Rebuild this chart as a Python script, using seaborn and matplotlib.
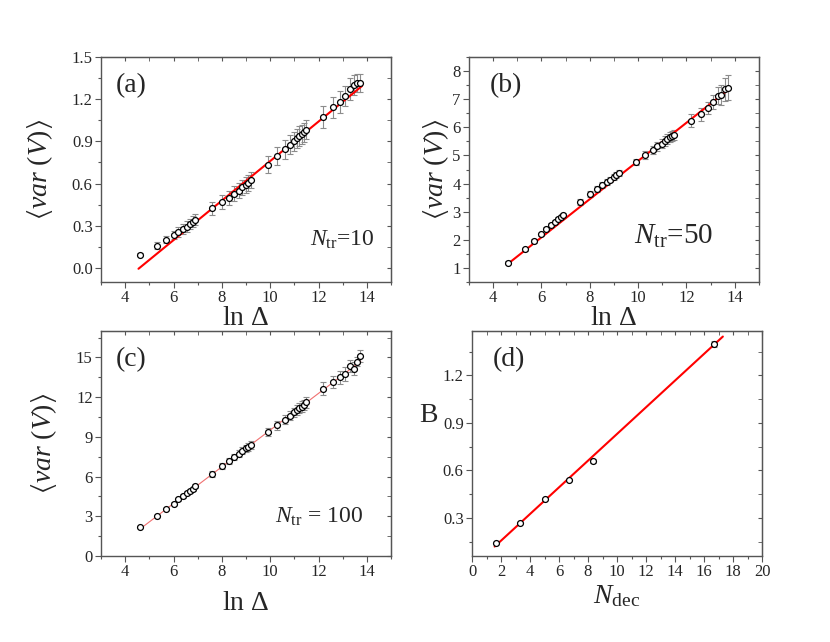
import matplotlib
matplotlib.use("Agg")
import matplotlib.pyplot as plt
from matplotlib.ticker import MultipleLocator, AutoMinorLocator
import numpy as np
import pandas as pd
import seaborn as sns

# ln(Delta) values shared by panels (a)-(c)
ln_delta = [4.6, 5.3, 5.7, 6.0, 6.2, 6.4, 6.55, 6.7, 6.8, 6.9,
            7.6, 8.0, 8.3, 8.5, 8.7, 8.85, 9.0, 9.1, 9.2,
            9.9, 10.3, 10.6, 10.8, 11.0, 11.1, 11.2, 11.3, 11.4, 11.5,
            12.2, 12.6, 12.9, 13.1, 13.3, 13.45, 13.6, 13.7]

# panel (a) N_tr = 10
var_a = [0.095, 0.157, 0.20, 0.233, 0.256, 0.28, 0.294, 0.313, 0.328, 0.342,
         0.423, 0.468, 0.50, 0.529, 0.55, 0.574, 0.589, 0.605, 0.627,
         0.733, 0.797, 0.843, 0.876, 0.902, 0.923, 0.938, 0.952, 0.966, 0.983,
         1.073, 1.144, 1.182, 1.222, 1.272, 1.30, 1.317, 1.313]
err_a = [0.012, 0.025, 0.025, 0.03, 0.033, 0.035, 0.037, 0.038, 0.04, 0.04,
         0.047, 0.05, 0.05, 0.053, 0.054, 0.055, 0.055, 0.056, 0.056,
         0.06, 0.066, 0.065, 0.067, 0.068, 0.068, 0.068, 0.068, 0.068, 0.068,
         0.077, 0.075, 0.077, 0.07, 0.08, 0.07, 0.065, 0.065]
fit_a = (0.1405, -0.645)
fit_range_a = (4.55, 13.8)

# panel (b) N_tr = 50
var_b = [1.19, 1.66, 1.96, 2.19, 2.38, 2.52, 2.63, 2.74, 2.81, 2.87,
         3.35, 3.63, 3.80, 3.94, 4.05, 4.14, 4.23, 4.31, 4.38,
         4.77, 5.02, 5.20, 5.32, 5.42, 5.51, 5.59, 5.65, 5.70, 5.73,
         6.24, 6.46, 6.69, 6.90, 7.13, 7.14, 7.35, 7.41]
err_b = [0.04, 0.05, 0.06, 0.06, 0.07, 0.07, 0.08, 0.08, 0.08, 0.08,
         0.1, 0.1, 0.1, 0.1, 0.1, 0.1, 0.1, 0.11, 0.11,
         0.12, 0.15, 0.15, 0.16, 0.16, 0.17, 0.17, 0.18, 0.18, 0.18,
         0.22, 0.22, 0.22, 0.25, 0.3, 0.35, 0.4, 0.45]
fit_b = (0.679, -1.985)
fit_range_b = (4.6, 13.7)

# panel (c) N_tr = 100
var_c = [2.17, 3.02, 3.55, 3.96, 4.29, 4.54, 4.74, 4.92, 5.09, 5.27,
         6.20, 6.78, 7.18, 7.49, 7.74, 7.94, 8.12, 8.24, 8.39,
         9.35, 9.86, 10.31, 10.59, 10.84, 11.02, 11.17, 11.29, 11.42, 11.60,
         12.63, 13.16, 13.49, 13.74, 14.34, 14.14, 14.67, 15.10]
err_c = [0.08, 0.1, 0.1, 0.12, 0.12, 0.13, 0.14, 0.15, 0.15, 0.16,
         0.2, 0.22, 0.22, 0.24, 0.25, 0.26, 0.27, 0.28, 0.28,
         0.3, 0.32, 0.34, 0.35, 0.36, 0.37, 0.38, 0.39, 0.4, 0.4,
         0.5, 0.45, 0.5, 0.5, 0.45, 0.5, 0.35, 0.48]
fit_c = (1.387, -4.36)
fit_range_c = (4.6, 13.75)

# panel (d) slope B vs N_dec
n_dec = [1.67, 3.33, 5.0, 6.67, 8.33, 16.67]
slope_B = [0.14, 0.268, 0.418, 0.54, 0.66, 1.396]
err_B = [0.005, 0.006, 0.005, 0.008, 0.012, 0.02]
fit_d = (0.0842, -0.012)
fit_range_d = (1.56, 17.3)

sns.set_style("ticks")
plt.rcParams['font.family'] = ['Liberation Serif', 'DejaVu Serif']
plt.rcParams['mathtext.fontset'] = 'custom'
plt.rcParams['mathtext.rm'] = 'Liberation Serif'
plt.rcParams['mathtext.it'] = 'Liberation Serif:italic'
plt.rcParams['mathtext.fallback'] = 'stix'

edge = '#555555'
fig = plt.figure(figsize=(8.3, 6.42), dpi=100)
ax_a = fig.add_axes([0.1217, 0.5607, 0.3494, 0.3505])
ax_b = fig.add_axes([0.5650, 0.5607, 0.3494, 0.3505])
ax_c = fig.add_axes([0.1217, 0.1340, 0.3494, 0.3505])
ax_d = fig.add_axes([0.5687, 0.1340, 0.3494, 0.3505])

ylab = r'$\langle \mathit{var}\ (V)\rangle$'


def style_axis(ax, xmaj, ymaj):
    ax.xaxis.set_major_locator(MultipleLocator(xmaj))
    ax.yaxis.set_major_locator(MultipleLocator(ymaj))
    ax.xaxis.set_minor_locator(AutoMinorLocator(2))
    ax.yaxis.set_minor_locator(AutoMinorLocator(2))
    ax.tick_params(which='major', direction='out', length=4, width=0.8,
                   color=edge, labelsize=12, pad=2)
    ax.tick_params(which='minor', direction='out', length=2.5, width=0.8, color=edge)
    for s in ax.spines.values():
        s.set_color(edge)
        s.set_linewidth(1.0)
    # inward ticks on the top and right spines
    top = ax.secondary_xaxis('top')
    top.xaxis.set_major_locator(MultipleLocator(xmaj))
    top.xaxis.set_minor_locator(AutoMinorLocator(2))
    top.tick_params(which='both', direction='in', length=3, color=edge, labeltop=False)
    top.spines['top'].set_color(edge)
    right = ax.secondary_yaxis('right')
    right.yaxis.set_major_locator(MultipleLocator(ymaj))
    right.yaxis.set_minor_locator(AutoMinorLocator(2))
    right.tick_params(which='both', direction='in', length=3, color=edge, labelright=False)
    right.spines['right'].set_color(edge)


def draw_panel(ax, x, y, err, fit, fit_range, line_color, line_width):
    df = pd.DataFrame({'x': x, 'y': y})
    ax.errorbar(x, y, yerr=err, fmt='none', ecolor='#8c8c8c', elinewidth=0.8,
                capsize=2.5, capthick=0.8, zorder=2)
    xf = np.array(fit_range)
    fit_df = pd.DataFrame({'x': xf, 'y': fit[0] * xf + fit[1]})
    sns.lineplot(data=fit_df, x='x', y='y', ax=ax, color=line_color,
                 linewidth=line_width, zorder=3)
    sns.scatterplot(data=df, x='x', y='y', ax=ax, marker='o', s=18,
                    facecolor='white', edgecolor='black', linewidth=0.9, zorder=4)


draw_panel(ax_a, ln_delta, var_a, err_a, fit_a, fit_range_a, 'red', 1.5)
ax_a.set_xlim(3, 15)
ax_a.set_ylim(-0.1, 1.5)
style_axis(ax_a, 2, 0.3)
ax_a.set_yticklabels([f'{v:.1f}' for v in ax_a.get_yticks()])
ax_a.set_xlabel(r'ln $\Delta$', fontsize=20, labelpad=0)
ax_a.set_ylabel(ylab, fontsize=20, labelpad=12)
ax_a.text(0.05, 0.93, '(a)', transform=ax_a.transAxes, fontsize=20, va='top')
ax_a.text(0.72, 0.16, r'$N_{\rm tr}$=10', transform=ax_a.transAxes, fontsize=17)

draw_panel(ax_b, ln_delta, var_b, err_b, fit_b, fit_range_b, 'red', 1.5)
ax_b.set_xlim(3, 15)
ax_b.set_ylim(0.5, 8.5)
style_axis(ax_b, 2, 1)
ax_b.set_xlabel(r'ln $\Delta$', fontsize=20, labelpad=0)
ax_b.set_ylabel(ylab, fontsize=20, labelpad=1)
ax_b.text(0.07, 0.93, '(b)', transform=ax_b.transAxes, fontsize=20, va='top')
ax_b.text(0.57, 0.17, r'$N_{\rm tr}$=50', transform=ax_b.transAxes, fontsize=21)

draw_panel(ax_c, ln_delta, var_c, err_c, fit_c, fit_range_c, '#f07070', 0.8)
ax_c.set_xlim(3, 15)
ax_c.set_ylim(0, 17)
style_axis(ax_c, 2, 3)
ax_c.set_xlabel(r'ln $\Delta$', fontsize=20, labelpad=8)
ax_c.set_ylabel(ylab, fontsize=20, labelpad=12)
ax_c.text(0.05, 0.93, '(c)', transform=ax_c.transAxes, fontsize=20, va='top')
ax_c.text(0.6, 0.15, r'$N_{\rm tr}$ = 100', transform=ax_c.transAxes, fontsize=17)

draw_panel(ax_d, n_dec, slope_B, err_B, fit_d, fit_range_d, 'red', 1.5)
ax_d.set_xlim(0, 20)
ax_d.set_ylim(0.06, 1.48)
style_axis(ax_d, 2, 0.3)
ax_d.set_yticklabels([f'{v:.1f}' for v in ax_d.get_yticks()])
ax_d.set_xlabel(r'$N_{\rm dec}$', fontsize=20, labelpad=2)
ax_d.set_ylabel('B', fontsize=20, rotation=0, labelpad=14)
ax_d.yaxis.set_label_coords(-0.15, 0.57)
ax_d.text(0.07, 0.93, '(d)', transform=ax_d.transAxes, fontsize=20, va='top')

plt.savefig('out.png', dpi=100)
